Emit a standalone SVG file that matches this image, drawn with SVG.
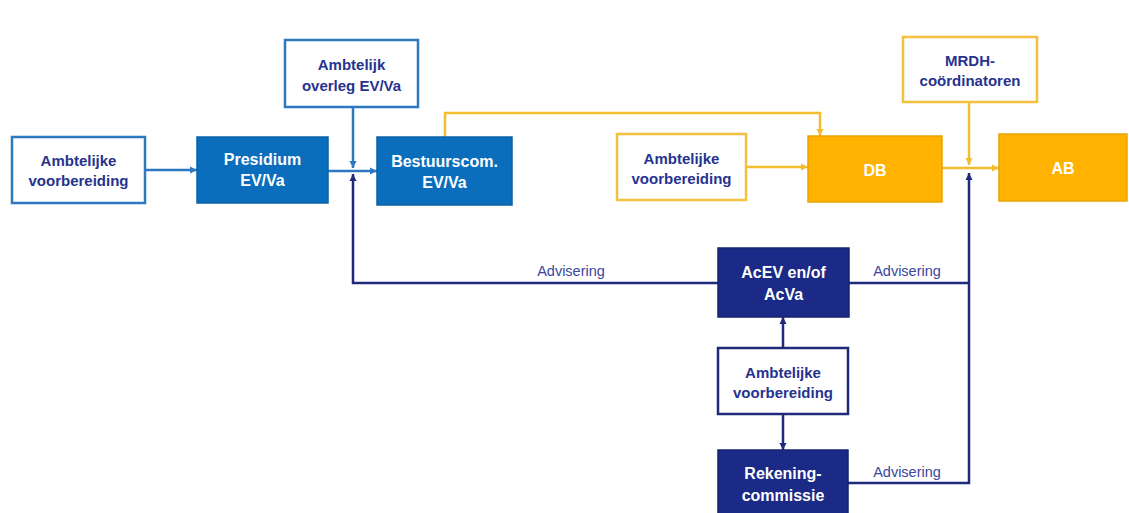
<svg xmlns="http://www.w3.org/2000/svg" width="1129" height="513" viewBox="0 0 1129 513">
<defs>
<style>
.bw{fill:#fff;stroke:#2e78bf;stroke-width:2.5}
.bf{fill:#0b6ebd;stroke:#0a62a8;stroke-width:1.5}
.yw{fill:#fff;stroke:#f4c040;stroke-width:2.5}
.yf{fill:#ffb300;stroke:#e9a400;stroke-width:1.5}
.nf{fill:#1a2a86;stroke:#15236f;stroke-width:1.5}
.nw{fill:#fff;stroke:#1f2b78;stroke-width:2.5}
.td{font-family:"Liberation Sans",Arial,sans-serif;font-weight:bold;font-size:15px;fill:#27338f;text-anchor:middle;dominant-baseline:central}
.tw{font-family:"Liberation Sans",Arial,sans-serif;font-weight:bold;font-size:16px;fill:#fff;text-anchor:middle;dominant-baseline:central}
.lab{font-family:"Liberation Sans",Arial,sans-serif;font-size:14.5px;fill:#3a479c;text-anchor:middle;dominant-baseline:central}
.cb{fill:none;stroke:#2e78bf;stroke-width:2.5}
.cy{fill:none;stroke:#f2bd30;stroke-width:2.5}
.cn{fill:none;stroke:#1f2a7a;stroke-width:2.5}
</style>
<marker id="ab" markerUnits="userSpaceOnUse" markerWidth="8" markerHeight="8" refX="7" refY="4" orient="auto"><path d="M0,0.5 L7,4 L0,7.5 Z" fill="#2e78bf"/></marker>
<marker id="ay" markerUnits="userSpaceOnUse" markerWidth="8" markerHeight="8" refX="7" refY="4" orient="auto"><path d="M0,0.5 L7,4 L0,7.5 Z" fill="#f2bd30"/></marker>
<marker id="an" markerUnits="userSpaceOnUse" markerWidth="8" markerHeight="8" refX="7" refY="4" orient="auto"><path d="M0,0.5 L7,4 L0,7.5 Z" fill="#1f2a7a"/></marker>
</defs>
<rect width="1129" height="513" fill="#fff"/>
<g id="connectors">
<path class="cb" d="M145,170 H197" marker-end="url(#ab)"/>
<path class="cb" d="M328,171 H377" marker-end="url(#ab)"/>
<path class="cb" d="M353,107 V168" marker-end="url(#ab)"/>
<path class="cn" d="M718,283 H353 V174" marker-end="url(#an)"/>
<path class="cy" d="M445,137 V113 H820 V136" marker-end="url(#ay)"/>
<path class="cy" d="M746,167 H808" marker-end="url(#ay)"/>
<path class="cy" d="M942,168 H999" marker-end="url(#ay)"/>
<path class="cy" d="M969,102 V165" marker-end="url(#ay)"/>
<path class="cn" d="M849,283 H969"/>
<path class="cn" d="M848,483 H969 V173" marker-end="url(#an)"/>
<path class="cn" d="M783,348 V317" marker-end="url(#an)"/>
<path class="cn" d="M783,414 V450" marker-end="url(#an)"/>
<text class="lab" x="571" y="271">Advisering</text>
<text class="lab" x="907" y="271">Advisering</text>
<text class="lab" x="907" y="472">Advisering</text>
</g>
<g id="n1"><rect class="bw" x="12" y="137" width="133" height="66"/><text class="td" x="78.5" y="160">Ambtelijke</text><text class="td" x="78.5" y="180">voorbereiding</text></g>
<g id="n2"><rect class="bf" x="197" y="137" width="131" height="66"/><text class="tw" x="262.5" y="159">Presidium</text><text class="tw" x="262.5" y="180">EV/Va</text></g>
<g id="n3"><rect class="bw" x="285" y="40" width="133" height="67"/><text class="td" x="351.5" y="64">Ambtelijk</text><text class="td" x="351.5" y="85">overleg EV/Va</text></g>
<g id="n4"><rect class="bf" x="377" y="137" width="135" height="68"/><text class="tw" x="444.5" y="161">Bestuurscom.</text><text class="tw" x="444.5" y="182">EV/Va</text></g>
<g id="n5"><rect class="yw" x="617" y="134" width="129" height="66"/><text class="td" x="681.5" y="158">Ambtelijke</text><text class="td" x="681.5" y="178">voorbereiding</text></g>
<g id="n6"><rect class="yf" x="808" y="136" width="134" height="66"/><text class="tw" x="875" y="170">DB</text></g>
<g id="n7"><rect class="yw" x="903" y="37" width="134" height="65"/><text class="td" x="970" y="60">MRDH-</text><text class="td" x="970" y="80">coördinatoren</text></g>
<g id="n8"><rect class="yf" x="999" y="134" width="128" height="67"/><text class="tw" x="1063" y="168">AB</text></g>
<g id="n9"><rect class="nf" x="718" y="248" width="131" height="69"/><text class="tw" x="783.5" y="272">AcEV en/of</text><text class="tw" x="783.5" y="294">AcVa</text></g>
<g id="n10"><rect class="nw" x="718" y="348" width="130" height="66"/><text class="td" x="783" y="372">Ambtelijke</text><text class="td" x="783" y="392">voorbereiding</text></g>
<g id="n11"><rect class="nf" x="718" y="450" width="130" height="64"/><text class="tw" x="783" y="473">Rekening-</text><text class="tw" x="783" y="495">commissie</text></g>
</svg>
